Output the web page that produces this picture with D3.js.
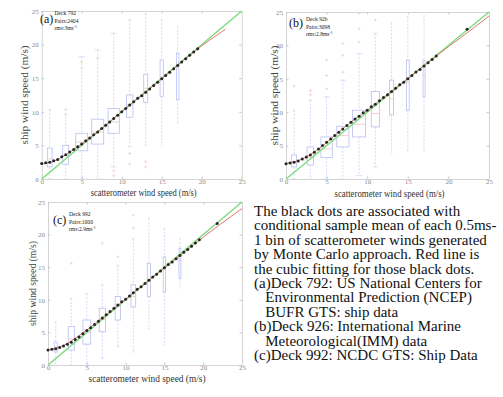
<!DOCTYPE html>
<html>
<head>
<meta charset="utf-8">
<script src="https://cdn.jsdelivr.net/npm/d3@7"></script>
<style>
  body { margin: 0; background: #fff; }
  svg { display: block; }
</style>
</head>
<body>
<svg id="fig" width="503" height="397"></svg>
<script>
// ---- data ----
const tickVals = [0, 5, 10, 15, 20, 25];
const binCenters = [1, 3, 5, 7, 9, 11, 13, 15, 17];
const dotX = [0, 0.5, 1, 1.5, 2, 2.5, 3, 3.5, 4, 4.5, 5, 5.5, 6, 6.5, 7, 7.5, 8, 8.5, 9, 9.5,
  10, 10.5, 11, 11.5, 12, 12.5, 13, 13.5, 14, 14.5, 15, 15.5, 16, 16.5, 17, 17.5, 18, 18.5, 19, 19.5];

// panel (a) Deck 792
const aQ1  = [1.8, 2.2, 4.2, 5.2, 6.8, 9.2, 11.4, 12.3, 11.8];
const aMed = [3.0, 3.5, 5.5, 7.0, 8.5, 11.0, 13.5, 15.0, 16.5];
const aQ3  = [4.6, 5.0, 6.8, 8.9, 10.5, 12.5, 15.6, 17.7, 18.7];
const aLo  = [0, 0, 0, 0, 1.8, 4.8, 5.0, 5.0, 8.3];
const aHi  = [10.3, 10.4, 18.2, 19.2, 21.7, 23.7, 24.6, 23.7, 22.7];
const aBw  = [0.6, 0.75, 1.5, 1.5, 1.4, 0.8, 0.5, 0.4, 0.3];
const aOutX = [3, 5, 5, 7, 9, 9, 11, 11, 13, 13];
const aOutY = [9.6, 16.5, 17.4, 18.0, 1.2, 0.5, 3.8, 2.2, 2.6, 1.8];
const aDotY = [2.3, 2.4, 2.5, 2.7, 2.9, 3.3, 3.6, 4.0, 4.4, 4.8, 5.2, 5.7, 6.1, 6.6, 7.0, 7.5, 8.0, 8.5, 9.0, 9.5,
  10.0, 10.5, 11.0, 11.5, 12.0, 12.4, 12.9, 13.4, 13.9, 14.4, 14.9, 15.4, 15.9, 16.4, 16.9, 17.4, 17.9, 18.4, 18.9, 19.4];
const aFitX = [0, 2, 4, 6, 8, 10, 12, 14, 16, 18, 20, 22, 23];
const aFitY = [2.2, 2.9, 4.4, 6.1, 8.0, 10.0, 12.0, 13.9, 15.9, 17.9, 19.8, 21.5, 22.3];

// panel (b) Deck 926
const bQ1  = [1.8, 2.1, 3.2, 4.8, 6.3, 7.8, 9.6, 10.3, 12.3];
const bMed = [2.6, 3.2, 4.5, 6.5, 8.2, 9.8, 12.0, 14.5, 15.5];
const bQ3  = [3.6, 4.8, 6.3, 7.9, 10.3, 13.1, 14.8, 17.8, 17.8];
const bLo  = [0, 0, 0, 0, 0.5, 1.8, 3.8, 4.1, 4.1];
const bHi  = [10.3, 11.8, 12.3, 14.8, 18.8, 21.8, 23.4, 24.3, 24.5];
const bBw  = [0.6, 0.8, 1.4, 1.5, 1.6, 1.0, 0.5, 0.35, 0.25];
const bOutX = [1, 3, 3, 5, 5, 5, 7, 7, 7, 9, 9, 9, 11];
const bOutY = [13.9, 12.6, 13.2, 13.5, 15.5, 17.8, 16.0, 18.5, 20.3, 20.5, 22.5, 24.8, 23.8];
const bDotY = [2.3, 2.4, 2.5, 2.7, 3.0, 3.3, 3.6, 4.0, 4.5, 5.0, 5.5, 6.0, 6.5, 7.0, 7.5, 8.0, 8.5, 9.0, 9.4, 9.9,
  10.3, 10.8, 11.2, 11.7, 12.2, 12.6, 13.1, 13.6, 14.1, 14.5, 15.0, 15.5, 16.0, 16.4, 16.9, 17.4, 17.9, 18.4];
const bExtraX = [22.3];
const bExtraY = [22.4];
const bFitX = [0, 2, 4, 6, 8, 10, 12, 14, 16, 18, 20, 22, 25];
const bFitY = [2.3, 3.0, 4.5, 6.5, 8.5, 10.3, 12.2, 14.1, 16.0, 17.9, 19.8, 21.6, 24.4];

// panel (c) Deck 992
const cQ1  = [2.0, 2.3, 3.2, 5.1, 6.9, 8.9, 10.5, 11.2, 13.3];
const cMed = [2.8, 4.0, 5.0, 7.0, 9.0, 10.5, 13.0, 15.0, 16.0];
const cQ3  = [3.5, 5.9, 6.9, 8.7, 10.5, 12.3, 15.6, 16.6, 17.9];
const cLo  = [0, 0, 0, 1.0, 2.8, 2.0, 5.6, 3.1, 11.8];
const cHi  = [6.6, 10.2, 11.0, 12.3, 15.3, 19.4, 22.5, 21.0, 19.4];
const cBw  = [0.4, 0.8, 1.0, 0.8, 0.7, 0.6, 0.4, 0.3, 0.25];
const cOutX = [3, 7, 9, 11, 11];
const cOutY = [15.6, 18.7, 16.6, 21.0, 23.0];
const cDotY = [2.3, 2.4, 2.5, 2.7, 2.9, 3.2, 3.5, 3.9, 4.3, 4.8, 5.3, 5.7, 6.2, 6.7, 7.2, 7.7, 8.2, 8.7, 9.2, 9.7,
  10.1, 10.6, 11.1, 11.6, 12.0, 12.5, 13.0, 13.5, 13.9, 14.4, 14.9, 15.4, 15.8, 16.3, 16.8, 17.3, 17.7, 18.2, 18.7, 19.2];
const cExtraX = [21.8];
const cExtraY = [21.7];
const cFitX = [0, 2, 4, 6, 8, 10, 12, 14, 16, 18, 20, 22, 25];
const cFitY = [2.3, 3.0, 4.5, 6.3, 8.2, 10.1, 12.0, 13.9, 15.8, 17.7, 19.6, 21.4, 24.0];

const identity = [0, 25];

const captionLines = [
  "The black dots are associated with",
  "conditional sample mean of each 0.5ms-",
  "1 bin of scatterometer winds generated",
  "by Monte Carlo approach. Red line is",
  "the cubic fitting for those black dots.",
  "(a)Deck 792: US National Centers for",
  "   Environmental Prediction (NCEP)",
  "   BUFR GTS: ship data",
  "(b)Deck 926: International Marine",
  "   Meteorological(IMM) data",
  "(c)Deck 992: NCDC GTS: Ship Data"
];

// ---- drawing ----
const svg = d3.select("#fig");
const serif = "'Liberation Serif', 'DejaVu Serif', serif";

const panels = [
  { tag: "(a)", info: ["Deck 792", "Pairs:2404", "rms:3ms"],
    box: [41.7, 241.7, 11, 179], ylabX: 28, xlabY: 196, xlabW: 106, ylabW: 99,
    tagPos: [40, 23], infoPos: [54.5, 15],
    q1: aQ1, med: aMed, q3: aQ3, lo: aLo, hi: aHi, bw: aBw, outX: aOutX, outY: aOutY,
    dotY: aDotY, exX: [], exY: [], fitX: aFitX, fitY: aFitY },
  { tag: "(b)", info: ["Deck 92b", "Pairs:3098", "rms:2.8ms"],
    box: [286, 489, 12, 179], ylabX: 278, xlabY: 197, xlabW: 110, ylabW: 100,
    tagPos: [289, 27], infoPos: [306, 21],
    q1: bQ1, med: bMed, q3: bQ3, lo: bLo, hi: bHi, bw: bBw, outX: bOutX, outY: bOutY,
    dotY: bDotY, exX: bExtraX, exY: bExtraY, fitX: bFitX, fitY: bFitY },
  { tag: "(c)", info: ["Deck 992", "Pairs:1000", "rms:2.9ms"],
    box: [48, 242, 202, 365], ylabX: 36, xlabY: 382, xlabW: 117, ylabW: 85,
    tagPos: [53, 224], infoPos: [69, 216],
    q1: cQ1, med: cMed, q3: cQ3, lo: cLo, hi: cHi, bw: cBw, outX: cOutX, outY: cOutY,
    dotY: cDotY, exX: cExtraX, exY: cExtraY, fitX: cFitX, fitY: cFitY }
];

panels.forEach(p => {
  const [l, r, t, b] = p.box;
  const x = d3.scaleLinear().domain([0, 25]).range([l, r]);
  const y = d3.scaleLinear().domain([0, 25]).range([b, t]);
  const g = svg.append("g");

  // axes with inward ticks on all four sides
  const axes = [
    [d3.axisBottom(x), `translate(0,${b})`, true, 0],
    [d3.axisLeft(y), `translate(${l},0)`, true, 3],
    [d3.axisTop(x), `translate(0,${t})`, false, 3],
    [d3.axisRight(y), `translate(${r},0)`, false, 3]
  ];
  axes.forEach(([ax, tr, labels, pad]) => {
    const a = g.append("g").attr("transform", tr)
      .call(ax.tickValues(tickVals).tickSizeInner(-2.5).tickSizeOuter(0).tickPadding(pad)
        .tickFormat(labels ? d3.format("d") : ""));
    a.attr("font-family", null);
    a.select(".domain").attr("stroke", "#d4d4d4");
    a.selectAll(".tick line").attr("stroke", "#c8c8c8");
    a.selectAll(".tick text").attr("fill", "#8a8a8a")
      .style("font-family", serif).style("font-size", "7px");
  });

  // boxplots
  const bins = g.append("g").selectAll("g").data(binCenters).enter().append("g");
  bins.append("line")
    .attr("x1", d => x(d)).attr("x2", d => x(d))
    .attr("y1", (d, i) => y(p.hi[i])).attr("y2", (d, i) => y(p.q3[i]))
    .attr("stroke", "#ccd1f4").attr("stroke-dasharray", "2,1.5").attr("stroke-width", 0.8);
  bins.append("line")
    .attr("x1", d => x(d)).attr("x2", d => x(d))
    .attr("y1", (d, i) => y(p.q1[i])).attr("y2", (d, i) => y(p.lo[i]))
    .attr("stroke", "#ccd1f4").attr("stroke-dasharray", "2,1.5").attr("stroke-width", 0.8);
  [p.hi, p.lo].forEach(arr => {
    bins.append("line")
      .attr("x1", (d, i) => x(d - p.bw[i] / 4)).attr("x2", (d, i) => x(d + p.bw[i] / 4))
      .attr("y1", (d, i) => y(arr[i])).attr("y2", (d, i) => y(arr[i]))
      .attr("stroke", "#d3d7f5").attr("stroke-width", 0.8);
  });
  bins.append("rect")
    .attr("x", (d, i) => x(d - p.bw[i] / 2))
    .attr("width", (d, i) => x(p.bw[i]) - x(0))
    .attr("y", (d, i) => y(p.q3[i]))
    .attr("height", (d, i) => y(p.q1[i]) - y(p.q3[i]))
    .attr("fill", "none").attr("stroke", "#b8bff0").attr("stroke-width", 0.8);
  bins.append("line")
    .attr("x1", (d, i) => x(d - p.bw[i] / 2)).attr("x2", (d, i) => x(d + p.bw[i] / 2))
    .attr("y1", (d, i) => y(p.med[i])).attr("y2", (d, i) => y(p.med[i]))
    .attr("stroke", "#efbcbc").attr("stroke-width", 0.7);

  // outliers
  g.append("g").selectAll("path").data(p.outX).enter().append("path")
    .attr("d", (d, i) => `M${x(d) - 1.5},${y(p.outY[i])}h3M${x(d)},${y(p.outY[i]) - 1.5}v3`)
    .attr("stroke", "#f3c8c8").attr("stroke-width", 0.7);

  // 1:1 line
  g.append("path")
    .datum(identity)
    .attr("d", d3.line().x(d => x(d)).y(d => y(d)))
    .attr("stroke", "#7ddc7d").attr("stroke-width", 1.5).attr("fill", "none");

  // cubic fit
  g.append("path")
    .datum(p.fitX.map((d, i) => [d, p.fitY[i]]))
    .attr("d", d3.line().x(d => x(d[0])).y(d => y(d[1])).curve(d3.curveMonotoneX))
    .attr("stroke", "#dc7a6e").attr("stroke-width", 1).attr("fill", "none");

  // conditional means
  const dots = p.dotY.map((v, i) => [dotX[i], v]).concat(p.exX.map((v, i) => [v, p.exY[i]]));
  g.append("g").selectAll("circle").data(dots).enter().append("circle")
    .attr("cx", d => x(d[0])).attr("cy", d => y(d[1])).attr("r", 1.5)
    .attr("fill", "#262626");

  // labels
  g.append("text")
    .attr("x", (l + r) / 2 + 2).attr("y", p.xlabY)
    .attr("text-anchor", "middle")
    .attr("textLength", p.xlabW).attr("lengthAdjust", "spacingAndGlyphs")
    .style("font-family", serif).style("font-size", "10px").attr("fill", "#333")
    .text("scatterometer wind speed (m/s)");
  g.append("text")
    .attr("transform", `translate(${p.ylabX},${(t + b) / 2}) rotate(-90)`)
    .attr("text-anchor", "middle")
    .attr("textLength", p.ylabW).attr("lengthAdjust", "spacingAndGlyphs")
    .style("font-family", serif).style("font-size", "10px").attr("fill", "#444")
    .text("ship wind speed (m/s)");

  g.append("text")
    .attr("x", p.tagPos[0]).attr("y", p.tagPos[1])
    .style("font-family", serif).style("font-size", "12px").attr("fill", "#111")
    .text(p.tag);
  p.info.forEach((s, i) => {
    const tx = g.append("text")
      .attr("x", p.infoPos[0]).attr("y", p.infoPos[1] + i * 7.5)
      .style("font-family", serif).style("font-size", "5.6px").attr("fill", "#222")
      .text(s);
    if (i === 2) tx.append("tspan").attr("dy", -2).style("font-size", "4px").text("-1");
  });
});

// caption text
svg.append("g").selectAll("text").data(captionLines).enter().append("text")
  .attr("x", 254).attr("y", (d, i) => 216 + i * 14.4)
  .attr("xml:space", "preserve")
  .style("white-space", "pre")
  .style("font-family", serif).style("font-size", "15px").attr("fill", "#111")
  .text(d => d);
</script>
</body>
</html>
